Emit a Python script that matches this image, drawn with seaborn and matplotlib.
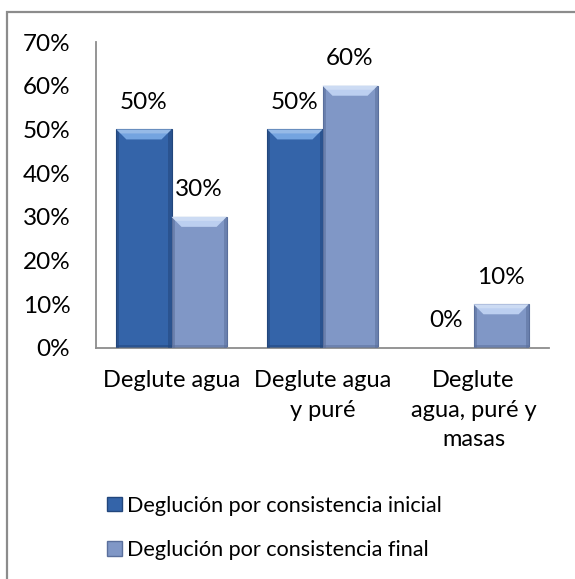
import pandas as pd
import numpy as np
import matplotlib
matplotlib.use('Agg')
import matplotlib.pyplot as plt
import seaborn as sns
from matplotlib.patches import Polygon, Rectangle, Patch
from matplotlib.ticker import FuncFormatter

# data
categorias = ['Deglute agua', 'Deglute agua\ny puré', 'Deglute\nagua, puré y\nmasas']
series = ['Deglución por consistencia inicial', 'Deglución por consistencia final']
inicial = [50, 50, 0]
final = [30, 60, 10]

df = pd.DataFrame({
    'Categoria': categorias * 2,
    'Serie': [series[0]] * 3 + [series[1]] * 3,
    'Valor': inicial + final,
})

body_colors = {series[0]: '#3464a9', series[1]: '#8097c6'}
bevel_colors = {series[0]: '#74a4e0', series[1]: '#bccff0'}
edge_colors = {series[0]: '#22467c', series[1]: '#5a6f9c'}

sns.set_theme(style='white')
plt.rcParams['font.family'] = ['Lato', 'DejaVu Sans']
text_color = '#000000'

fig = plt.figure(figsize=(5.75, 5.79), dpi=100)
ax = fig.add_axes([96 / 575, 1 - 348 / 579, (549 - 96) / 575, (348 - 42) / 579])

sns.barplot(data=df, x='Categoria', y='Valor', hue='Serie', palette=body_colors,
            width=0.73, ax=ax, legend=False, saturation=1)

ax.set_ylim(0, 70)
ax.set_yticks(range(0, 71, 10))
ax.yaxis.set_major_formatter(FuncFormatter(lambda v, p: f'{v:.0f}%'))
ax.set_xlabel('')
ax.set_ylabel('')
ax.tick_params(axis='y', length=0, pad=18.5, labelsize=17.5, colors=text_color)
ax.tick_params(axis='x', length=0, pad=16, labelsize=17, colors=text_color)
for lbl in ax.get_xticklabels():
    lbl.set_linespacing(1.5)

for s in ['top', 'right']:
    ax.spines[s].set_visible(False)
for s in ['left', 'bottom']:
    ax.spines[s].set_color('#8c8c8c')
    ax.spines[s].set_linewidth(1.3)

# data labels
for cont, serie in zip(ax.containers, series):
    ax.bar_label(cont, labels=[f'{v:.0f}%' for v in cont.datavalues],
                 padding=12, fontsize=17.5, color=text_color)

# excel-like bevel on each bar
inv = ax.transData.inverted()
def px_to_data(dx, dy):
    p0 = inv.transform((0, 0))
    p1 = inv.transform((dx, dy))
    return p1[0] - p0[0], p1[1] - p0[1]

bx, by = px_to_data(10, 10)
sx, sy = px_to_data(3, 3)
for cont, serie in zip(ax.containers, series):
    for bar in cont:
        x, w, h = bar.get_x(), bar.get_width(), bar.get_height()
        if h <= 0:
            continue
        bar.set_edgecolor(edge_colors[serie])
        bar.set_linewidth(0.8)
        # side shading
        for x0, x1 in [(x, x + sx), (x + w - sx, x + w)]:
            ax.add_patch(Polygon([(x0, 0), (x0, h), (x1, h), (x1, 0)], closed=True,
                                 facecolor=edge_colors[serie], alpha=0.55, edgecolor='none', zorder=3))
        ax.add_patch(Polygon([(x, 0), (x + w, 0), (x + w, sy), (x, sy)], closed=True,
                             facecolor=edge_colors[serie], alpha=0.5, edgecolor='none', zorder=3))
        # lighter top bevel
        ax.add_patch(Polygon([(x, h), (x + w, h), (x + w - bx, h - by), (x + bx, h - by)],
                             closed=True, facecolor=bevel_colors[serie], edgecolor='none', zorder=4))
        ax.add_patch(Polygon([(x, h), (x + w, h), (x + w - bx * 0.4, h - by * 0.4), (x + bx * 0.4, h - by * 0.4)],
                             closed=True, facecolor='white', alpha=0.25, edgecolor='none', zorder=4))

# legend below
handles = [Patch(facecolor=body_colors[s], edgecolor=edge_colors[s]) for s in series]
leg = fig.legend(handles, series, loc='center', bbox_to_anchor=(0.478, 1 - 528 / 579),
                 frameon=False, fontsize=15.6, handlelength=0.68, handleheight=0.68,
                 handletextpad=0.25, labelspacing=1.15)
for t in leg.get_texts():
    t.set_color(text_color)

# outer chart frame (only left and top visible)
fig.patches.append(Rectangle((7 / 575, -0.1), 1.2, 1 - 12 / 579 + 0.1, transform=fig.transFigure,
                             fill=False, edgecolor='#8c8c8c', linewidth=1.6, zorder=0))

fig.savefig('out.png', dpi=100)
